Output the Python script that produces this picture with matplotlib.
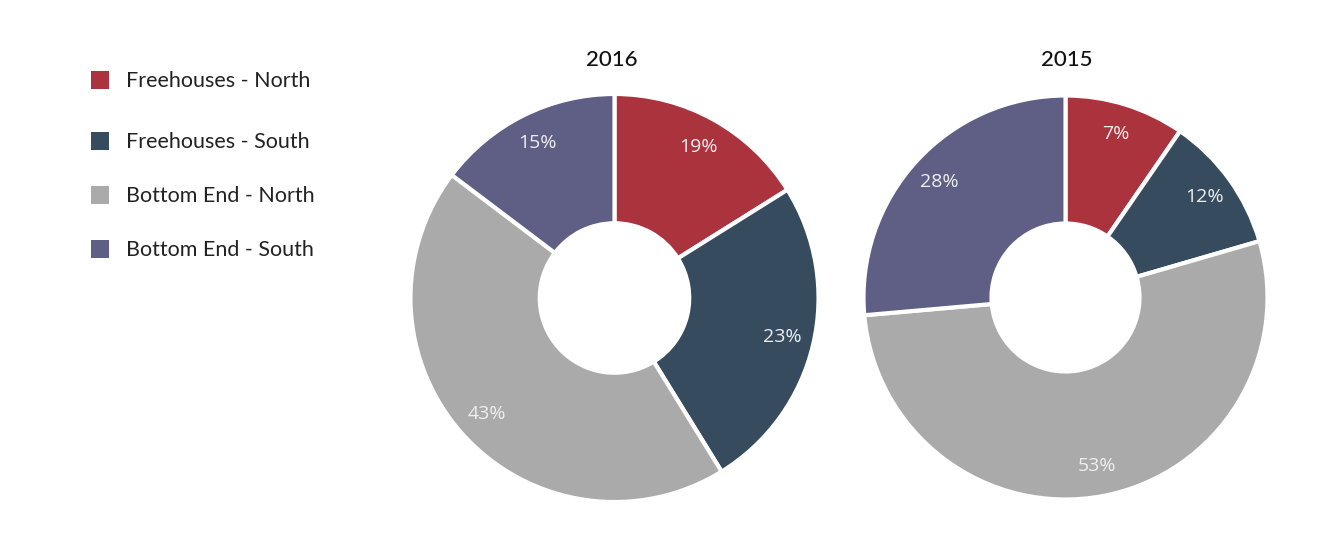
import matplotlib
matplotlib.use("Agg")
import numpy as np
import matplotlib.pyplot as plt
from matplotlib.patches import Rectangle

W, H = 1338, 540

categories = ["Freehouses - North", "Freehouses - South", "Bottom End - North", "Bottom End - South"]
colors = ["#AA333D", "#364B5E", "#AAAAAA", "#5F5E85"]

# wedge sizes as drawn in the picture, and the printed labels
shares_2016 = [16.1, 25.1, 44.1, 14.7]
labels_2016 = ["19%", "23%", "43%", "15%"]
shares_2015 = [9.6, 10.9, 53.1, 26.4]
labels_2015 = ["7%", "12%", "53%", "28%"]

fig = plt.figure(figsize=(W / 100, H / 100), dpi=100)
fig.patch.set_facecolor("white")


def px(x, y):
    # pixel (from top-left) -> figure fraction
    return x / W, 1 - y / H


def donut(cx, cy, r, shares, labels, title, title_x):
    ax = fig.add_axes([(cx - r) / W, (H - cy - r) / H, 2 * r / W, 2 * r / H])
    wedges, _ = ax.pie(shares, colors=colors, startangle=90, counterclock=False,
                       radius=1.01,
                       wedgeprops=dict(width=0.64, edgecolor="white", linewidth=3))
    for w, lab in zip(wedges, labels):
        ang = np.deg2rad((w.theta1 + w.theta2) / 2)
        ax.text(0.855 * np.cos(ang), 0.855 * np.sin(ang), lab, ha="center", va="center",
                color="#EFEFEF", fontsize=14, family="Open Sans")
    ax.set_xlim(-1, 1)
    ax.set_ylim(-1, 1)
    ax.set_aspect("equal")
    ax.axis("off")
    fig.text(*px(title_x, 60), title, ha="center", va="center", fontsize=16,
             family="Lato", fontweight="medium", color="#111111")


donut(614.5, 298, 202, shares_2016, labels_2016, "2016", 612)
donut(1065.5, 297.5, 200, shares_2015, labels_2015, "2015", 1067)

# legend, drawn by hand to keep the uneven spacing
legend_y = [80, 141, 195, 249]
for name, col, y in zip(categories, colors, legend_y):
    x0, y0 = px(91, y + 9)
    fig.patches.append(Rectangle((x0, y0), 18 / W, 18 / H, transform=fig.transFigure,
                                 facecolor=col, edgecolor="none"))
    fig.text(*px(126, y + 1), name, ha="left", va="center", fontsize=15.5,
             family="Lato", color="#222222")

fig.savefig("out.png", dpi=100)
